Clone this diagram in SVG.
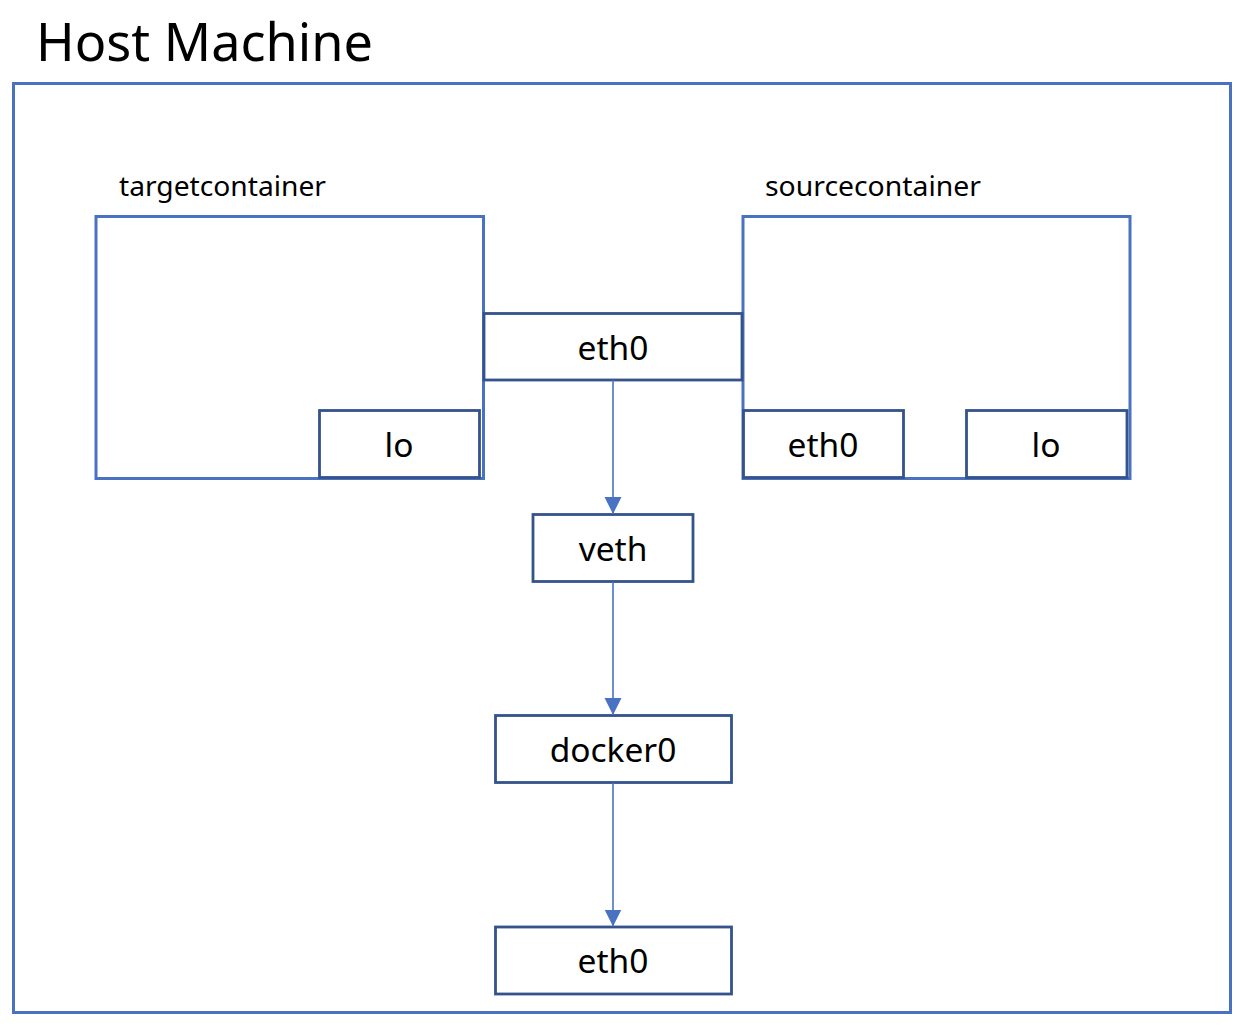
<svg xmlns="http://www.w3.org/2000/svg" width="1248" height="1030" viewBox="0 0 1248 1030">
  <style>
    .outer { fill: none; stroke: #4A72C2; stroke-width: 3; }
    .cont { fill: #FFFFFF; stroke: #4A72C2; stroke-width: 3; }
    .iface { fill: #FFFFFF; stroke: #34528C; stroke-width: 2.8; }
    .conn { fill: none; stroke: #4A72C2; stroke-width: 1.6; }
    text { font-family: "Noto Sans", "Open Sans", "Liberation Sans", sans-serif; fill: #000000; }
    .lbl { font-size: 33.5px; text-anchor: middle; }
    .cap { font-size: 27px; }
  </style>
  <defs>
    <marker id="arrow" markerUnits="userSpaceOnUse" markerWidth="18" markerHeight="18" refX="17" refY="8.5" orient="auto">
      <path d="M0,0 L17,8.5 L0,17 Z" fill="#4A72C2"/>
    </marker>
  </defs>
  <rect width="1248" height="1030" fill="#FFFFFF"/>

  <g id="host">
    <text x="36" y="61" font-size="53" textLength="337" lengthAdjust="spacingAndGlyphs">Host Machine</text>
    <rect class="outer" x="13.5" y="83.5" width="1217" height="929"/>
  </g>

  <g id="targetcontainer">
    <text class="cap" x="119" y="196" textLength="207" lengthAdjust="spacingAndGlyphs">targetcontainer</text>
    <rect class="cont" x="96" y="216.5" width="387.5" height="262"/>
  </g>

  <g id="sourcecontainer">
    <text class="cap" x="765" y="196" textLength="216" lengthAdjust="spacingAndGlyphs">sourcecontainer</text>
    <rect class="cont" x="743" y="216.5" width="387" height="262"/>
  </g>

  <g id="target-lo">
    <rect class="iface" x="319.5" y="410.5" width="160" height="67"/>
    <text class="lbl" x="399" y="457">lo</text>
  </g>

  <g id="shared-eth0">
    <rect class="iface" x="484" y="313.5" width="258" height="66.5"/>
    <text class="lbl" x="613" y="360">eth0</text>
  </g>

  <g id="source-eth0">
    <rect class="iface" x="743.5" y="410.5" width="160" height="67"/>
    <text class="lbl" x="823" y="457">eth0</text>
  </g>

  <g id="source-lo">
    <rect class="iface" x="966.5" y="410.5" width="160.5" height="67"/>
    <text class="lbl" x="1046" y="457">lo</text>
  </g>

  <g id="veth">
    <rect class="iface" x="533" y="514.5" width="160" height="67"/>
    <text class="lbl" x="613" y="561">veth</text>
  </g>

  <g id="docker0">
    <rect class="iface" x="495.5" y="715.5" width="236" height="67"/>
    <text class="lbl" x="613" y="762">docker0</text>
  </g>

  <g id="host-eth0">
    <rect class="iface" x="495.5" y="927" width="236" height="67"/>
    <text class="lbl" x="613" y="973">eth0</text>
  </g>

  <g id="connectors">
    <line class="conn" x1="613" y1="380" x2="613" y2="514" marker-end="url(#arrow)"/>
    <line class="conn" x1="613" y1="581.5" x2="613" y2="715" marker-end="url(#arrow)"/>
    <line class="conn" x1="613" y1="782.5" x2="613" y2="926.5" marker-end="url(#arrow)"/>
  </g>
</svg>
